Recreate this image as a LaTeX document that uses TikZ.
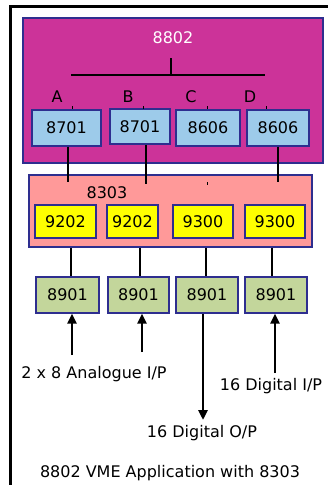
\documentclass[tikz,border=0pt]{standalone}
\usepackage{fontspec}
\setmainfont{DejaVu Sans}
\usetikzlibrary{arrows.meta}

\definecolor{boardPink}{HTML}{CC3399}
\definecolor{boardSalmon}{HTML}{FF9999}
\definecolor{cardBlue}{HTML}{9DCBEA}
\definecolor{cardYellow}{HTML}{FFFF00}
\definecolor{cardGreen}{HTML}{C3D69B}
\definecolor{edgeNavy}{HTML}{2E2E8F}

\begin{document}
\begin{tikzpicture}[x = 1pt, y = -1pt,
        lbl/.style = {font = \fontsize{16}{19}\selectfont},
        board/.style = {draw = edgeNavy, line width = 1.2pt, rectangle, inner sep = 0pt},
        card/.style = {board, lbl},
        wire/.style = {line width = 2pt},
        signal/.style = {line width = 2.5pt, -{Triangle[length = 10pt, width = 9pt]}},
        tick/.style = {line width = 0.7pt}
    ]
        \useasboundingbox (0, 0) rectangle (327, 485);

        % outer frame
        \draw[line width = 3pt]
            (10.5, 485) -- (10.5, 6) -- (330, 6)
        ;

        % boards
        \draw
            (173, 90.5) node[board, fill = boardPink, minimum width = 300pt, minimum height = 145pt](vme){}
            (170.5, 211) node[board, fill = boardSalmon, minimum width = 283pt, minimum height = 72pt](sub){}

            (173, 38) node[lbl, text = white]{8802}
            (107, 193) node[lbl]{8303}

            (57, 97) node[lbl]{A}
            (128, 97) node[lbl]{B}
            (191, 97) node[lbl]{C}
            (250, 97) node[lbl]{D}
        ;

        % cards on the 8802
        \draw
            (66.5, 128) node[card, fill = cardBlue, minimum width = 69pt, minimum height = 36pt](slotA){8701}
            (140, 126.5) node[card, fill = cardBlue, minimum width = 60pt, minimum height = 35pt](slotB){8701}
            (208, 128) node[card, fill = cardBlue, minimum width = 64pt, minimum height = 36pt](slotC){8606}
            (278, 128) node[card, fill = cardBlue, minimum width = 62pt, minimum height = 36pt](slotD){8606}
        ;

        % cards on the 8303
        \draw
            (65.5, 221.5) node[card, fill = cardYellow, minimum width = 61pt, minimum height = 33pt](modA){9202}
            (132.5, 221.5) node[card, fill = cardYellow, minimum width = 51pt, minimum height = 33pt](modB){9202}
            (203, 221.5) node[card, fill = cardYellow, minimum width = 60pt, minimum height = 33pt](modC){9300}
            (275, 221.5) node[card, fill = cardYellow, minimum width = 60pt, minimum height = 33pt](modD){9300}
        ;

        % termination boards
        \draw
            (67.5, 295) node[card, fill = cardGreen, minimum width = 63pt, minimum height = 36pt](termA){8901}
            (138.5, 295) node[card, fill = cardGreen, minimum width = 61pt, minimum height = 36pt](termB){8901}
            (207, 295) node[card, fill = cardGreen, minimum width = 62pt, minimum height = 36pt](termC){8901}
            (276, 295) node[card, fill = cardGreen, minimum width = 62pt, minimum height = 36pt](termD){8901}
        ;

        % bus
        \draw[wire]
            (71, 75) coordinate(busL) -- (265, 75) coordinate(busR)
            (171, 58) -- (171, 75)
        ;
        \draw[tick]
            (72, 106) --++ (0, 2.5)
            (143, 106) --++ (0, 2.5)
            (207, 106) --++ (0, 2.5)
            (266, 106) --++ (0, 2.5)
            (207, 182) --++ (0, 2.5)
        ;

        % links 8802 -> 8303
        \draw[wire]
            (slotA.south -| 68, 0) -- (68, 182)
            (slotB.south -| 146, 0) -- (146, 184)
            (slotD.south -| 278, 0) -- (278, 182)
        ;

        % links 8303 -> 8901
        \draw[wire]
            (sub.south -| 71, 0) -- (termA.north -| 71, 0)
            (sub.south -| 140, 0) -- (termB.north -| 140, 0)
            (sub.south -| 206, 0) -- (termC.north -| 206, 0)
            (sub.south -| 272, 0) -- (termD.north -| 272, 0)
        ;

        % field signals
        \draw[signal] (72, 355) -- (termA.south -| 72, 0);
        \draw[signal] (142, 352) -- (termB.south -| 142, 0);
        \draw[signal] (termC.south -| 203, 0) -- (203, 420);
        \draw[signal] (275, 373) -- (termD.south -| 275, 0);

        \draw
            (94, 374) node[lbl]{2 x 8 Analogue I/P}
            (271, 386) node[lbl]{16 Digital I/P}
            (202, 433) node[lbl]{16 Digital O/P}
            (170, 473) node[lbl]{8802 VME Application with 8303}
        ;
    \end{tikzpicture}
\end{document}
